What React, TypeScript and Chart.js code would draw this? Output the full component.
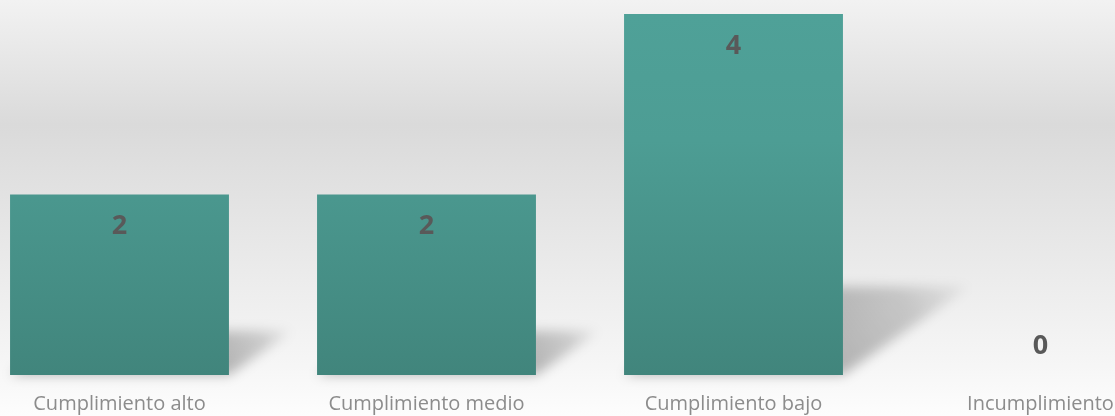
import React, { useEffect, useRef } from "react";
import { Chart, registerables } from "chart.js";

Chart.register(...registerables);

const categories = ["Cumplimiento alto", "Cumplimiento medio", "Cumplimiento bajo", "Incumplimiento"];
const values = [2, 2, 4, 0];
const yMin = 0;
const yMax = 4;

const bgPlugin = {
  id: "bgPlugin",
  beforeDraw(chart: any) {
    const { ctx, width, height } = chart;
    const g = ctx.createLinearGradient(0, 0, 0, height);
    g.addColorStop(0, "#f2f2f2");
    g.addColorStop(0.3, "#dadada");
    g.addColorStop(0.88, "#f6f6f6");
    g.addColorStop(1, "#fdfdfd");
    ctx.save();
    ctx.fillStyle = g;
    ctx.fillRect(0, 0, width, height);
    ctx.restore();
  },
};

const shadowPlugin = {
  id: "shadowPlugin",
  beforeDatasetsDraw(chart: any) {
    const { ctx } = chart;
    const meta = chart.getDatasetMeta(0);
    meta.data.forEach((el: any) => {
      const half = el.width / 2;
      const left = el.x - half;
      const right = el.x + half;
      const base = el.base;
      const h = base - el.y;
      if (h > 0) {
        const bg = ctx.createLinearGradient(0, el.y, 0, base);
        bg.addColorStop(0, "#4fa198");
        bg.addColorStop(0.35, "#4d9d94");
        bg.addColorStop(1, "#41857c");
        el.options.backgroundColor = bg;
      }
      if (h <= 0) return;
      const dx = 0.35 * h;
      const dy = 0.245 * h;
      ctx.save();
      ctx.filter = "blur(6px)";
      const sg = ctx.createLinearGradient(right, base, right + dx, base - dy);
      sg.addColorStop(0, "rgba(0,0,0,0.27)");
      sg.addColorStop(0.6, "rgba(0,0,0,0.17)");
      sg.addColorStop(1, "rgba(0,0,0,0.03)");
      ctx.fillStyle = sg;
      ctx.beginPath();
      ctx.moveTo(left, base);
      ctx.lineTo(right, base);
      ctx.lineTo(right + dx, base - dy);
      ctx.lineTo(left + dx, base - dy);
      ctx.closePath();
      ctx.fill();
      ctx.restore();
    });
  },
};

const labelPlugin = {
  id: "labelPlugin",
  afterDatasetsDraw(chart: any) {
    const { ctx } = chart;
    const meta = chart.getDatasetMeta(0);
    ctx.save();
    ctx.font = "bold 27px 'Open Sans'";
    ctx.fillStyle = "#595959";
    ctx.textAlign = "center";
    ctx.textBaseline = "middle";
    meta.data.forEach((el: any, i: number) => {
      const v = values[i];
      const y = v > 0 ? el.y + 32 : el.base - 29;
      ctx.fillText(String(v), el.x, y);
    });
    ctx.restore();
  },
};

export default function App() {
  const ref = useRef<HTMLCanvasElement>(null);
  useEffect(() => {
    if (!ref.current) return;
    const chart = new Chart(ref.current, {
      type: "bar",
      data: {
        labels: categories,
        datasets: [
          {
            data: values,
            backgroundColor: "#4a968d",
            borderWidth: 0,
            categoryPercentage: 1,
            barPercentage: 0.713,
          },
        ],
      },
      options: {
        responsive: false,
        animation: false,
        layout: { padding: { top: 14, bottom: -17, left: 0, right: 0 } },
        plugins: { legend: { display: false }, tooltip: { enabled: false } },
        scales: {
          x: {
            grid: { display: false, drawTicks: false },
            border: { display: false },
            ticks: {
              color: "#8c8c8c",
              font: { family: "'Open Sans'", size: 20 },
              padding: 17,
              maxRotation: 0,
              autoSkip: false,
            },
          },
          y: { display: false, min: yMin, max: yMax },
        },
      },
      plugins: [bgPlugin, shadowPlugin, labelPlugin],
    });
    return () => chart.destroy();
  }, []);
  return (
    <div style={{ position: "fixed", left: 0, top: 0, width: 1115, height: 416, overflow: "hidden" }}>
      <div style={{ position: "absolute", left: -34, top: 0, width: 1228, height: 416 }}>
        <canvas ref={ref} width={1228} height={416} style={{ display: "block" }} />
      </div>
    </div>
  );
}
